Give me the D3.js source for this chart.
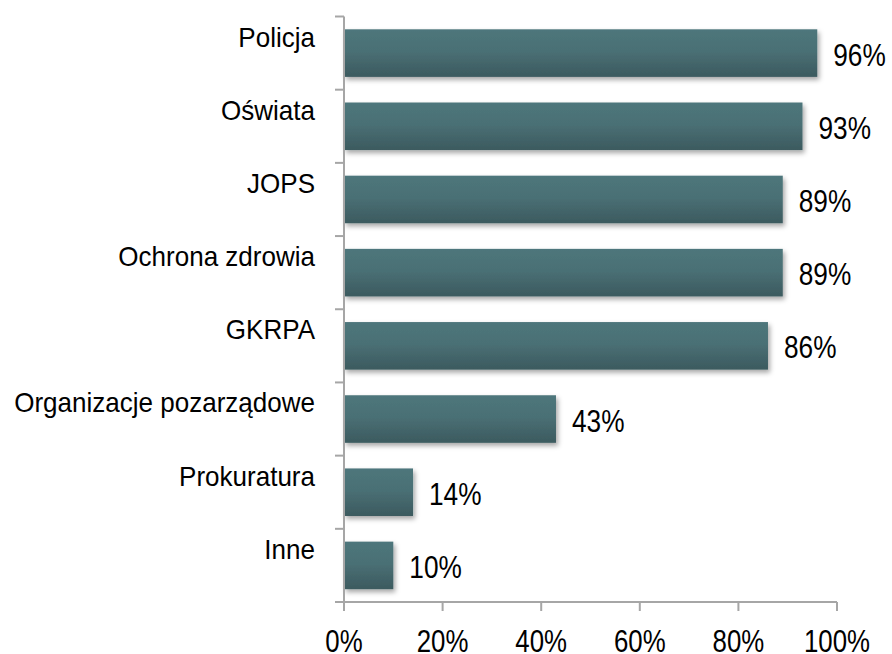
<!DOCTYPE html>
<html>
<head>
<meta charset="utf-8">
<script src="https://cdn.jsdelivr.net/npm/d3@7"></script>
<style>
  html, body { margin: 0; padding: 0; background: #fff; }
  svg { display: block; }
  text { font-family: "Liberation Sans", Arial, sans-serif; fill: #000; }
</style>
</head>
<body>
<svg id="chart" width="892" height="654"></svg>
<script>
const categories = ["Policja", "Oświata", "JOPS", "Ochrona zdrowia", "GKRPA", "Organizacje pozarządowe", "Prokuratura", "Inne"];
const values = [0.96, 0.93, 0.89, 0.89, 0.86, 0.43, 0.14, 0.10];
const valueLabels = ["96%", "93%", "89%", "89%", "86%", "43%", "14%", "10%"];
const xTicks = [0, 0.2, 0.4, 0.6, 0.8, 1.0];
const xTickLabels = ["0%", "20%", "40%", "60%", "80%", "100%"];

const svg = d3.select("#chart");
const mLeft = 344, mRight = 837, mTop = 16.5, mBottom = 602;
const narrow = 0.82;   // emulate a narrow sans face
const labelNarrow = 0.93;

const x = d3.scaleLinear().domain([0, 1]).range([mLeft, mRight]);
const y = d3.scaleBand().domain(categories).range([mTop, mBottom]).paddingInner(0.35).paddingOuter(0.175);

const defs = svg.append("defs");
const grad = defs.append("linearGradient").attr("id", "barGrad").attr("x1", 0).attr("y1", 0).attr("x2", 0).attr("y2", 1);
grad.append("stop").attr("offset", "0%").attr("stop-color", "#4e767b");
grad.append("stop").attr("offset", "45%").attr("stop-color", "#4a7075");
grad.append("stop").attr("offset", "100%").attr("stop-color", "#3c5a5f");
const filt = defs.append("filter").attr("id", "shadow").attr("x", "-10%").attr("y", "-20%").attr("width", "130%").attr("height", "160%");
filt.append("feDropShadow").attr("dx", 2).attr("dy", 3).attr("stdDeviation", 2.5).attr("flood-color", "#000").attr("flood-opacity", 0.35);

// bars
svg.append("g").selectAll("rect").data(categories).join("rect")
  .attr("x", x(0))
  .attr("y", d => y(d))
  .attr("width", (d, i) => x(values[i]) - x(0))
  .attr("height", y.bandwidth())
  .attr("fill", "url(#barGrad)")
  .attr("filter", "url(#shadow)");

// y axis
const step = y.step();
const yTickPos = d3.range(categories.length + 1).map(i => mTop + i * step);
const axisColor = "#a6a6a6";
svg.append("line").attr("x1", mLeft).attr("x2", mLeft).attr("y1", mTop).attr("y2", mBottom)
  .attr("stroke", axisColor).attr("stroke-width", 2);
svg.append("g").selectAll("line").data(yTickPos).join("line")
  .attr("x1", mLeft - 9).attr("x2", mLeft).attr("y1", d => d).attr("y2", d => d)
  .attr("stroke", axisColor).attr("stroke-width", 2);

// x axis
svg.append("line").attr("x1", mLeft - 9).attr("x2", mRight).attr("y1", mBottom).attr("y2", mBottom)
  .attr("stroke", axisColor).attr("stroke-width", 2);
svg.append("g").selectAll("line").data(xTicks).join("line")
  .attr("x1", d => x(d)).attr("x2", d => x(d)).attr("y1", mBottom).attr("y2", mBottom + 9)
  .attr("stroke", axisColor).attr("stroke-width", 2);
svg.append("g").selectAll("text").data(xTicks).join("text")
  .attr("transform", d => `translate(${x(d)},651.5) scale(${narrow},1)`)
  .attr("text-anchor", "middle")
  .attr("font-size", 31.5)
  .text((d, i) => xTickLabels[i]);

// category labels
svg.append("g").selectAll("text").data(categories).join("text")
  .attr("transform", (d, i) => `translate(315,${yTickPos[i] + 30}) scale(${labelNarrow},1)`)
  .attr("text-anchor", "end")
  .attr("font-size", 28)
  .text(d => d);

// value labels
svg.append("g").selectAll("text").data(categories).join("text")
  .attr("transform", (d, i) => `translate(${x(values[i]) + 16},${y(d) + y.bandwidth() / 2 + 12.5}) scale(${narrow},1)`)
  .attr("font-size", 32)
  .text((d, i) => valueLabels[i]);
</script>
</body>
</html>
